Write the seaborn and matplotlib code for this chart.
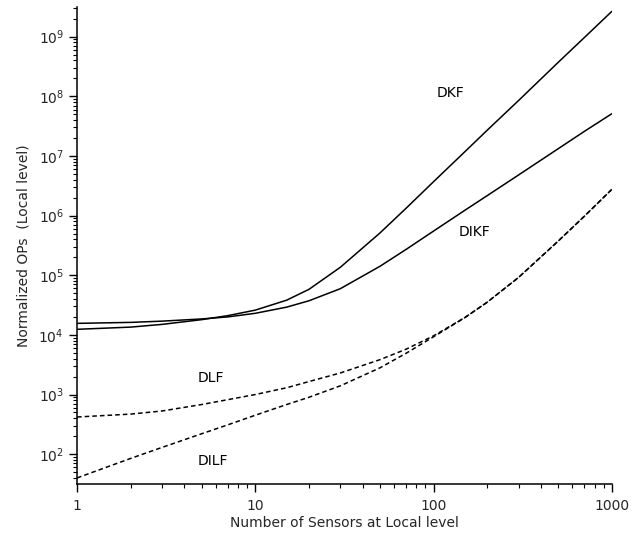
import matplotlib
matplotlib.use("Agg")
import matplotlib.pyplot as plt
import seaborn as sns
import pandas as pd
from matplotlib.ticker import LogLocator, NullFormatter

# ---- data ----
sensors = [1, 2, 3, 5, 7, 10, 15, 20, 30, 50, 70, 100, 150, 200, 300, 500, 700, 1000]
dkf  = [1.24e4, 1.35e4, 1.5e4, 1.8e4, 2.1e4, 2.6e4, 3.82e4, 5.8e4, 1.36e5, 5.1e5,
        1.32e6, 3.7e6, 1.18e7, 2.7e7, 8.5e7, 3.7e8, 9.6e8, 2.65e9]
dikf = [1.56e4, 1.62e4, 1.7e4, 1.85e4, 2.0e4, 2.3e4, 2.92e4, 3.73e4, 5.95e4, 1.41e5,
        2.7e5, 5.5e5, 1.23e6, 2.16e6, 4.8e6, 1.32e7, 2.57e7, 5.1e7]
dlf  = [420, 470, 530, 680, 820, 1000, 1300, 1650, 2300, 3840,
        5740, 9640, 1.96e4, 3.53e4, 9.2e4, 3.73e5, 9.7e5, 2.75e6]
dilf = [40, 85, 130, 220, 310, 450, 680, 900, 1400, 2800,
        4900, 9300, 1.95e4, 3.53e4, 9.2e4, 3.73e5, 9.7e5, 2.75e6]

series_names = ["DKF", "DIKF", "DLF", "DILF"]
label_x = [125, 169, 5.6, 5.8]
label_y = [1.15e8, 5.4e5, 1870, 76]

x_ticks = [1, 10, 100, 1000]
x_tick_labels = ["1", "10", "100", "1000"]

df = pd.DataFrame({
    "sensors": sensors * 4,
    "ops": dkf + dikf + dlf + dilf,
    "series": sum([[n] * len(sensors) for n in series_names], []),
})

sns.set_style("ticks")
plt.rcParams["font.family"] = ["DejaVu Sans"]

fig = plt.figure(figsize=(6.42, 5.35), dpi=100)
ax = fig.add_axes([0.12, 0.0953, 0.833, 0.892])

styles = {"DKF": "-", "DIKF": "-", "DLF": (0, (3, 2)), "DILF": (0, (3, 2))}
for name in series_names:
    sub = df[df["series"] == name]
    sns.lineplot(data=sub, x="sensors", y="ops", ax=ax, color="black",
                 linewidth=1.1, linestyle=styles[name], legend=False)

ax.set_xscale("log")
ax.set_yscale("log")
ax.set_xlim(1, 1000)
ax.set_ylim(10 ** 1.5, 10 ** 9.5)

ax.set_xticks(x_ticks)
ax.set_xticklabels(x_tick_labels)
ax.xaxis.set_minor_locator(LogLocator(base=10, subs=range(2, 10)))
ax.xaxis.set_minor_formatter(NullFormatter())
ax.set_yticks([10 ** k for k in range(2, 10)])
ax.yaxis.set_minor_locator(LogLocator(base=10, subs=range(2, 10), numticks=20))
ax.yaxis.set_minor_formatter(NullFormatter())

ax.tick_params(axis="both", which="major", direction="out", length=6, width=1,
               labelsize=10, color="black")
ax.tick_params(axis="x", which="major", pad=5)
ax.tick_params(axis="both", which="minor", direction="out", length=3, width=0.8,
               color="black")

for s in ["top", "right"]:
    ax.spines[s].set_visible(False)
for s in ["left", "bottom"]:
    ax.spines[s].set_color("black")
    ax.spines[s].set_linewidth(1.1)

for name, lx, ly in zip(series_names, label_x, label_y):
    ax.text(lx, ly, name, ha="center", va="center", fontsize=10, color="black")

ax.set_xlabel("Number of Sensors at Local level", fontsize=10, labelpad=2)
ax.set_ylabel("Normalized OPs  (Local level)", fontsize=10, labelpad=6)

fig.savefig("out.png", dpi=100)
